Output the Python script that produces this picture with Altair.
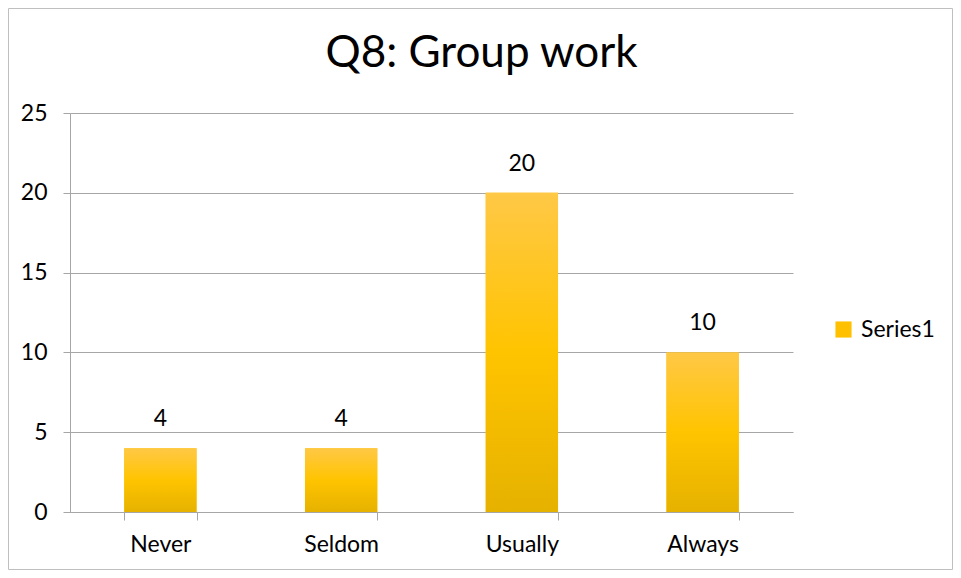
import altair as alt
import pandas as pd

categories = ["Never", "Seldom", "Usually", "Always"]
values = [4, 4, 20, 10]
series_name = "Series1"
y_ticks = [0, 5, 10, 15, 20, 25]
title_text = "Q8: Group work"

df = pd.DataFrame({"cat": categories, "val": values, "series": [series_name] * len(categories)})

FONT = "Lato"
FS = 23
W, H = 723, 399

gradient = alt.Gradient(
    gradient="linear",
    stops=[
        alt.GradientStop(color="#FFC846", offset=0),
        alt.GradientStop(color="#FFC400", offset=0.5),
        alt.GradientStop(color="#E6B200", offset=1),
    ],
    x1=0, x2=0, y1=0, y2=1,
)

x_enc = alt.X(
    "cat:N",
    sort=categories,
    title=None,
    scale=alt.Scale(paddingInner=0.6, paddingOuter=0.3),
    axis=alt.Axis(
        labelAngle=0, labelFontSize=FS, labelFont=FONT, labelColor="#000000",
        labelPadding=13, tickBand="extent", tickSize=8, tickColor="#A6A6A6",
        domainColor="#A6A6A6", domainWidth=1, grid=False,
    ),
)
y_enc = alt.Y(
    "val:Q",
    title=None,
    scale=alt.Scale(domain=[0, 25]),
    axis=alt.Axis(
        values=y_ticks, labelFontSize=FS, labelFont=FONT, labelColor="#000000",
        labelPadding=16, tickSize=7, tickColor="#A6A6A6", domainColor="#A6A6A6",
        gridColor="#A6A6A6", gridWidth=1,
    ),
)

base = alt.Chart(df)

legend_bars = base.mark_bar().encode(
    x=x_enc,
    y=y_enc,
    color=alt.Color(
        "series:N",
        scale=alt.Scale(range=["#FFC000"]),
        legend=alt.Legend(
            title=None, orient="none", legendX=762, legendY=205,
            symbolType="square", symbolSize=260, symbolStrokeWidth=0,
            labelFontSize=FS, labelFont=FONT, labelColor="#000000", labelOffset=6,
        ),
    ),
)

grad_bars = base.mark_bar(color=gradient).encode(x=x_enc, y=y_enc)

labels = base.mark_text(dy=-17, fontSize=FS, font=FONT, color="#000000", baseline="bottom").encode(
    x=x_enc, y=y_enc, text="val:Q"
)

frame = alt.Chart(pd.DataFrame({"a": [0]})).mark_rect(
    fill=None, stroke="#BFBFBF", strokeWidth=1
).encode(
    x=alt.value(-61.5), x2=alt.value(W + 159.5), y=alt.value(-104.5), y2=alt.value(H + 57.5)
)

chart = alt.layer(frame, legend_bars, grad_bars, labels).properties(
    width=W,
    height=H,
    autosize=alt.AutoSizeParams(type="none"),
    padding={"left": 62, "top": 105, "right": 160, "bottom": 58},
    title=alt.TitleParams(
        title_text, fontSize=44, font=FONT, fontWeight="normal", color="#000000",
        anchor="middle", baseline="alphabetic", offset=-103, dx=50,
    ),
).configure_view(stroke=None)

chart.save("out.html", embed_options={"renderer": "svg", "actions": False})
